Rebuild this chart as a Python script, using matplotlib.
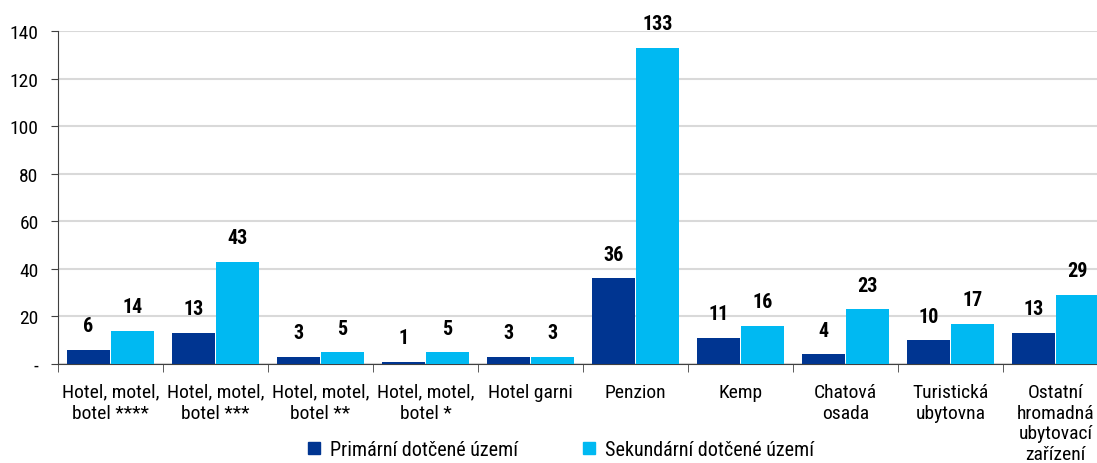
import numpy as np
import matplotlib.pyplot as plt
from matplotlib.ticker import FuncFormatter, FixedLocator
from matplotlib.lines import Line2D

plt.rcParams['font.family'] = ['Arial Narrow', 'Liberation Sans Narrow', 'Roboto Condensed',
                               'Archivo Narrow', 'Liberation Sans', 'DejaVu Sans']

categories = [
    "Hotel, motel,\nbotel ****",
    "Hotel, motel,\nbotel ***",
    "Hotel, motel,\nbotel **",
    "Hotel, motel,\nbotel *",
    "Hotel garni",
    "Penzion",
    "Kemp",
    "Chatová\nosada",
    "Turistická\nubytovna",
    "Ostatní\nhromadná\nubytovací\nzařízení",
]
primary = [6, 13, 3, 1, 3, 36, 11, 4, 10, 13]
secondary = [14, 43, 5, 5, 3, 133, 16, 23, 17, 29]
series_names = ["Primární dotčené území", "Sekundární dotčené území"]

DARK = "#003591"
LIGHT = "#00B9F2"
BAR_W = 0.41

fig = plt.figure(figsize=(10.97, 4.64), dpi=100)
# plot area runs a bit past the right edge of the canvas
ax = fig.add_axes([58 / 1097, 99 / 464, 1050 / 1097, 333 / 464])

x = np.arange(len(categories))
b1 = ax.bar(x - BAR_W / 2 - 0.005, primary, BAR_W, color=DARK, zorder=3)
b2 = ax.bar(x + BAR_W / 2 + 0.005, secondary, BAR_W, color=LIGHT, zorder=3)

for bars, vals in ((b1, primary), (b2, secondary)):
    for rect, v in zip(bars, vals):
        ax.annotate(str(v), (rect.get_x() + rect.get_width() / 2, v),
                    xytext=(0, 10.5), textcoords="offset points",
                    ha="center", va="bottom", fontsize=14.5, fontweight="bold")

ax.set_xlim(-0.5, len(categories) - 0.5)
ax.set_ylim(0, 140)
ax.set_yticks(range(0, 141, 20))
ax.yaxis.set_major_formatter(FuncFormatter(lambda v, p: "-" if v == 0 else f"{int(v)}"))
ax.yaxis.grid(True, color="#d9d9d9", linewidth=1.5, zorder=0)
ax.set_axisbelow(True)

ax.set_xticks(x)
ax.set_xticklabels(categories, fontsize=14, linespacing=1.2)
ax.xaxis.set_minor_locator(FixedLocator(np.arange(-0.5, len(categories), 1.0)))
ax.tick_params(axis="x", which="major", length=0, pad=13.5)
ax.tick_params(axis="x", which="minor", length=6, direction="out", color="#404040")
ax.tick_params(axis="y", length=5, direction="out", color="#404040", labelsize=14, pad=9)

for side in ("top", "right"):
    ax.spines[side].set_visible(False)
ax.spines["left"].set_color("#404040")
ax.spines["bottom"].set_color("#404040")

handles = [Line2D([], [], marker="s", linestyle="None", markersize=8, color=c)
           for c in (DARK, LIGHT)]
fig.legend(handles, series_names, loc="center", bbox_to_anchor=(560 / 1097, 13 / 464),
           ncol=2, frameon=False, fontsize=14.5, columnspacing=3.1,
           handlelength=0.8, handletextpad=0.4)

fig.savefig("out.png", dpi=100)
